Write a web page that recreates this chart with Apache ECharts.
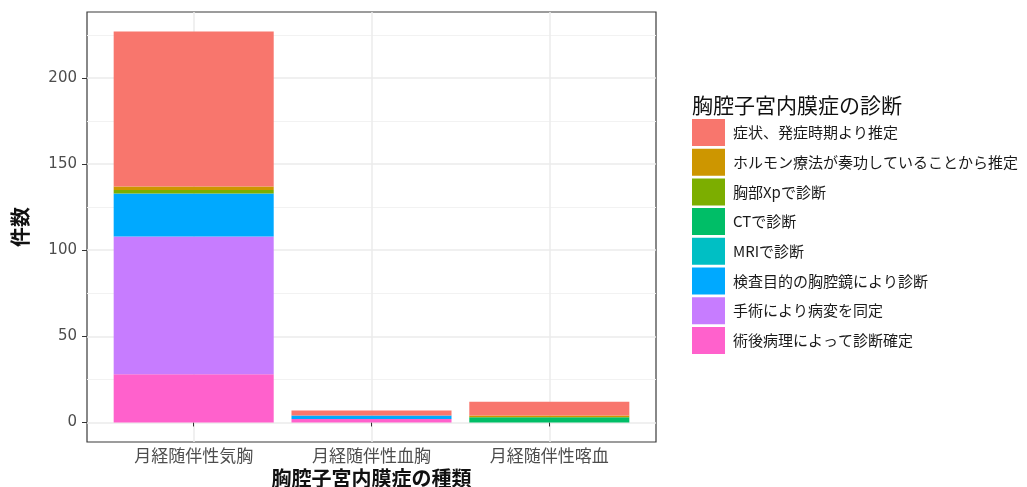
<!DOCTYPE html>
<html>
<head>
<meta charset="utf-8">
<script src="https://cdn.jsdelivr.net/npm/echarts@6/dist/echarts.min.js"></script>
<style>
html,body{margin:0;padding:0;background:#fff;}
#chart{width:1027px;height:487px;}
</style>
</head>
<body>
<div id="chart"></div>
<script>
// ---- data ----
const categories = ['月経随伴性気胸', '月経随伴性血胸', '月経随伴性喀血'];
const categoryPositions = [1, 2, 3];
const legendTitle = '胸腔子宮内膜症の診断';
const xTitle = '胸腔子宮内膜症の種類';
const yTitle = '件数';
const yTicks = [0, 50, 100, 150, 200];
const yMinorTicks = [25, 75, 125, 175, 225];

// legend order (top of stack first, as in the reference)
const diagnosisNames = [
  '症状、発症時期より推定',
  'ホルモン療法が奏功していることから推定',
  '胸部Xpで診断',
  'CTで診断',
  'MRIで診断',
  '検査目的の胸腔鏡により診断',
  '手術により病変を同定',
  '術後病理によって診断確定'
];
const diagnosisColors = ['#F8766D', '#CD9600', '#7CAE00', '#00BE67', '#00BFC4', '#00A9FF', '#C77CFF', '#FF61CC'];

// values per category (気胸, 血胸, 喀血)
const symptomEstimate = [90, 3, 8];
const hormoneEstimate = [2, 0, 1];
const chestXp = [2, 0, 0];
const ctScan = [0, 0, 3];
const mriScan = [0, 0, 0];
const thoracoscopy = [25, 2, 0];
const surgery = [80, 0, 0];
const pathology = [28, 2, 0];

const valuesByDiagnosis = [symptomEstimate, hormoneEstimate, chestXp, ctScan, mriScan, thoracoscopy, surgery, pathology];

// ---- chart ----
const jp = '"Noto Sans CJK JP", "Noto Sans", sans-serif';
const chart = echarts.init(document.getElementById('chart'), null, {renderer: 'canvas'});

const yMin = -11.35, yMax = 238.35;
const panel = {left: 87, top: 12, width: 569, height: 430};
// discrete axis spans 0.4..3.6 in the panel; category bands of the bar grid are 1 unit wide
const unit = panel.width / 3.2;
const barGrid = {left: panel.left + 0.1 * unit, top: panel.top, width: 3 * unit, height: panel.height};

// stacking: first series is at bottom, so reverse legend order
const series = [];
for (let i = diagnosisNames.length - 1; i >= 0; i--) {
  series.push({
    name: diagnosisNames[i],
    type: 'bar',
    stack: 'total',
    xAxisIndex: 1,
    yAxisIndex: 2,
    barWidth: '90%',
    itemStyle: {color: diagnosisColors[i]},
    emphasis: {disabled: true},
    data: valuesByDiagnosis[i]
  });
}

const option = {
  animation: false,
  backgroundColor: '#ffffff',
  grid: [
    Object.assign({show: true, borderColor: '#3a3a3a', borderWidth: 1.2, backgroundColor: '#ffffff', outerBoundsMode: 'none', containLabel: false}, panel),
    Object.assign({show: false, outerBoundsMode: 'none', containLabel: false}, barGrid)
  ],
  legend: {
    orient: 'vertical',
    left: 692, top: 119, padding: 0,
    icon: 'rect',
    itemWidth: 33, itemHeight: 27, itemGap: 2.7,
    data: diagnosisNames,
    selectedMode: false,
    textStyle: {fontFamily: jp, fontSize: 15, color: '#1a1a1a', padding: [0, 0, 0, 3]}
  },
  graphic: [{
    type: 'text', left: 692, top: 95,
    style: {text: legendTitle, font: '21px "Noto Sans CJK JP", sans-serif', fill: '#111'}
  }],
  xAxis: [{
    gridIndex: 0,
    type: 'value', min: 0.4, max: 3.6,
    axisLine: {show: false},
    axisTick: {show: false, customValues: categoryPositions},
    axisLabel: {show: false},
    splitLine: {show: true, lineStyle: {color: '#EBEBEB', width: 1.5}}
  }, {
    gridIndex: 1,
    type: 'category', data: categories, boundaryGap: true,
    name: xTitle, nameLocation: 'middle', nameGap: 26,
    nameTextStyle: {fontFamily: jp, fontSize: 20, color: '#111', fontWeight: 'bold'},
    axisLine: {show: false},
    axisTick: {show: true, alignWithLabel: true, length: 4, lineStyle: {color: '#333'}},
    axisLabel: {margin: 5, fontFamily: jp, fontSize: 17, color: '#4D4D4D', interval: 0},
    splitLine: {show: false}
  }],
  yAxis: [{
    gridIndex: 0,
    type: 'value', min: yMin, max: yMax,
    name: yTitle, nameLocation: 'middle', nameGap: 57, nameRotate: 90,
    nameTextStyle: {fontFamily: jp, fontSize: 20, color: '#111', fontWeight: 'bold'},
    axisLine: {show: false},
    axisTick: {show: true, customValues: yTicks, length: 5, lineStyle: {color: '#333'}},
    axisLabel: {customValues: yTicks, margin: 10, fontFamily: '"DejaVu Sans", sans-serif', fontSize: 15, color: '#4D4D4D'},
    splitLine: {show: true, lineStyle: {color: '#EBEBEB', width: 1.5}}
  }, {
    gridIndex: 0,
    type: 'value', min: yMin, max: yMax, position: 'left',
    axisLine: {show: false},
    axisTick: {show: false, customValues: yMinorTicks},
    axisLabel: {show: false, customValues: yMinorTicks},
    splitLine: {show: true, lineStyle: {color: '#F2F2F2', width: 1}}
  }, {
    gridIndex: 1,
    type: 'value', min: yMin, max: yMax,
    axisLine: {show: false}, axisTick: {show: false}, axisLabel: {show: false},
    splitLine: {show: false}
  }],
  series: series
};
chart.setOption(option);
</script>
</body>
</html>
